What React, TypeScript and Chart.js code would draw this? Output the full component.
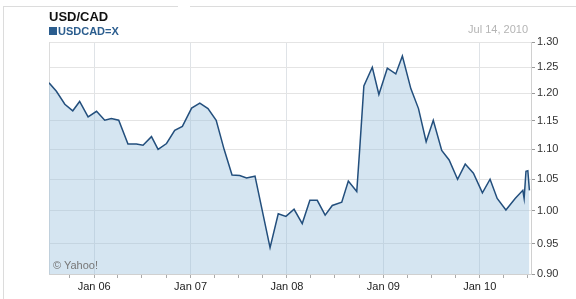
import React, { useEffect, useRef } from "react";
import { Chart, registerables } from "chart.js";

Chart.register(...registerables);

const dates = [
  "2005-07-14", "2005-08-11", "2005-09-12", "2005-10-12", "2005-11-07", "2005-12-09",
  "2006-01-10", "2006-02-10", "2006-03-07", "2006-04-04", "2006-05-09", "2006-06-10",
  "2006-07-05", "2006-08-06", "2006-08-31", "2006-10-02", "2006-11-02", "2006-12-01",
  "2007-01-05", "2007-02-05", "2007-03-08", "2007-04-08", "2007-05-08", "2007-06-07",
  "2007-07-06", "2007-08-01", "2007-09-02", "2007-10-29", "2007-11-29", "2007-12-28",
  "2008-01-28", "2008-02-28", "2008-03-28", "2008-04-25", "2008-05-25", "2008-06-21",
  "2008-07-27", "2008-08-21", "2008-09-22", "2008-10-04", "2008-10-19", "2008-11-20",
  "2008-12-15", "2009-01-16", "2009-02-17", "2009-03-14", "2009-04-15", "2009-05-14",
  "2009-06-12", "2009-07-09", "2009-08-10", "2009-09-07", "2009-10-09", "2009-11-07",
  "2009-12-08", "2010-01-11", "2010-02-09", "2010-03-08", "2010-04-10", "2010-05-15",
  "2010-06-13", "2010-06-18", "2010-06-25", "2010-07-02", "2010-07-08",
];

const rates = [
  1.220, 1.204, 1.180, 1.168, 1.185, 1.157,
  1.167, 1.151, 1.154, 1.151, 1.109, 1.109,
  1.107, 1.122, 1.100, 1.110, 1.133, 1.140,
  1.173, 1.182, 1.172, 1.151, 1.100, 1.057,
  1.056, 1.052, 1.055, 0.944, 0.995, 0.991,
  1.002, 0.980, 1.016, 1.016, 0.993, 1.008,
  1.013, 1.047, 1.030, 1.106, 1.214, 1.250,
  1.198, 1.248, 1.237, 1.272, 1.209, 1.172,
  1.113, 1.151, 1.098, 1.082, 1.050, 1.075,
  1.060, 1.028, 1.050, 1.019, 1.001, 1.019,
  1.032, 1.019, 1.063, 1.064, 1.032,
];

const rangeStart = "2005-07-14";
const rangeEnd = "2010-07-14";

const xTickYears = [2006, 2007, 2008, 2009, 2010];
const xTickLabels = ["Jan 06", "Jan 07", "Jan 08", "Jan 09", "Jan 10"];

const yTickValues = [0.9, 0.95, 1.0, 1.05, 1.1, 1.15, 1.2, 1.25, 1.3];
const yTickLabels = ["0.90", "0.95", "1.00", "1.05", "1.10", "1.15", "1.20", "1.25", "1.30"];
const yMin = 0.906;
const yMax = 1.3;

function toYear(s: string): number {
  const [y, m, d] = s.split("-").map(Number);
  const start = Date.UTC(y, 0, 1);
  const end = Date.UTC(y + 1, 0, 1);
  return y + (Date.UTC(y, m - 1, d) - start) / (end - start);
}

const xMin = toYear(rangeStart);
const xMax = toYear(rangeEnd);

const quarterTicks: number[] = [];
for (let y = 2005; y <= 2010; y++) {
  for (const m of [1, 4, 7, 10]) {
    const v = toYear(`${y}-${String(m).padStart(2, "0")}-01`);
    if (v > xMin && v < xMax) quarterTicks.push(v);
  }
}

const framePlugin = {
  id: "frame",
  beforeDatasetsDraw(chart: any) {
    const { ctx, chartArea } = chart;
    ctx.save();
    ctx.strokeStyle = "#dcdcdc";
    ctx.lineWidth = 1;
    ctx.beginPath();
    ctx.moveTo(Math.round(chartArea.left) + 0.5, chartArea.top);
    ctx.lineTo(Math.round(chartArea.left) + 0.5, chartArea.bottom);
    ctx.stroke();
    ctx.restore();
  },
};

export default function App() {
  const ref = useRef<HTMLCanvasElement | null>(null);

  useEffect(() => {
    if (!ref.current) return;
    const font = { family: "Arial, 'Liberation Sans', sans-serif", size: 11 };
    const chart = new Chart(ref.current, {
      type: "line",
      data: {
        datasets: [
          {
            data: dates.map((d, i) => ({ x: toYear(d), y: rates[i] })),
            borderColor: "#234f7d",
            borderWidth: 1.5,
            backgroundColor: "rgba(150,190,220,0.4)",
            fill: "start",
            pointRadius: 0,
            tension: 0,
          },
        ],
      },
      options: {
        responsive: false,
        animation: false,
        events: [],
        layout: { padding: { left: 49, top: 42, right: 0, bottom: 0 } },
        plugins: { legend: { display: false }, tooltip: { enabled: false } },
        scales: {
          x: {
            type: "linear",
            min: xMin,
            max: xMax,
            afterBuildTicks: (s: any) => {
              s.ticks = quarterTicks.map((v) => ({ value: v }));
            },
            afterFit: (s: any) => {
              s.height = 25;
            },
            ticks: {
              autoSkip: false,
              maxRotation: 0,
              padding: 2,
              font,
              color: "#222",
              callback: (v: any) => {
                const i = xTickYears.indexOf(Math.round(Number(v) * 1000) / 1000);
                return i >= 0 ? xTickLabels[i] : "";
              },
            },
            grid: {
              color: (ctx: any) =>
                ctx.tick && Number.isInteger(Math.round(ctx.tick.value * 1000) / 1000)
                  ? "#dfe3e7"
                  : "rgba(0,0,0,0)",
              tickColor: "#aaa",
              tickLength: 4,
            },
            border: { color: "#d0d0d0" },
          },
          y: {
            type: "logarithmic",
            position: "right",
            min: yMin,
            max: yMax,
            afterBuildTicks: (s: any) => {
              s.ticks = yTickValues.map((v) => ({ value: Math.max(v, yMin) }));
            },
            afterFit: (s: any) => {
              s.width = 45;
            },
            ticks: {
              autoSkip: false,
              padding: 2,
              font,
              color: "#333",
              callback: (_v: any, i: number) => yTickLabels[i],
            },
            grid: { color: "#e4e4e4", tickColor: "#999", tickLength: 4 },
            border: { color: "#d0d0d0" },
          },
        },
      },
      plugins: [framePlugin],
    } as any);
    return () => chart.destroy();
  }, []);

  const base: React.CSSProperties = {
    position: "absolute",
    fontFamily: "Arial, 'Liberation Sans', sans-serif",
    whiteSpace: "nowrap",
  };

  return (
    <div style={{ position: "absolute", left: 0, top: 0, width: 576, height: 299, background: "#fff" }}>
      <canvas ref={ref} width={576} height={299} style={{ position: "absolute", left: 0, top: 0 }} />
      <div style={{ position: "absolute", left: 3, top: 6, width: 175, height: 1, background: "#dcdcdc" }} />
      <div style={{ position: "absolute", left: 190, top: 6, width: 386, height: 1, background: "#dcdcdc" }} />
      <div style={{ position: "absolute", left: 3, top: 6, width: 1, height: 293, background: "#dcdcdc" }} />
      <div style={{ ...base, left: 49, top: 10, fontSize: 13, lineHeight: "13px", fontWeight: "bold", color: "#111" }}>
        USD/CAD
      </div>
      <div style={{ position: "absolute", left: 49, top: 27, width: 8, height: 8, background: "#2b5d8e" }} />
      <div style={{ ...base, left: 58, top: 25.6, fontSize: 11, lineHeight: "11px", fontWeight: "bold", color: "#2b5d8e" }}>
        USDCAD=X
      </div>
      <div style={{ ...base, right: 576 - 528, top: 24.2, fontSize: 11, lineHeight: "11px", color: "#b4b4b4" }}>
        Jul 14, 2010
      </div>
      <div style={{ ...base, left: 53, top: 260.4, fontSize: 11, lineHeight: "11px", color: "#777" }}>
        © Yahoo!
      </div>
    </div>
  );
}
